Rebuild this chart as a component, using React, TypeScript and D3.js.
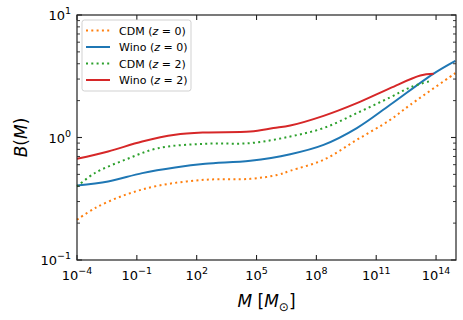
import React, { useRef, useEffect } from 'react';
import * as d3 from 'd3';

const cdmZ0LogM = [-4, -3.1, -1.59, 0.07, 2.43, 4.69, 6.05, 6.69, 8.36, 10.03, 11.7, 12.71, 14.97];
const cdmZ0B = [0.213, 0.265, 0.34, 0.404, 0.452, 0.46, 0.495, 0.535, 0.658, 0.957, 1.393, 1.849, 3.357];

const winoZ0LogM = [-4, -2.44, -0.73, 0.92, 2.43, 4.69, 6.69, 8.36, 10.03, 11.7, 13.86, 14.97];
const winoZ0B = [0.406, 0.438, 0.512, 0.569, 0.61, 0.646, 0.731, 0.871, 1.194, 1.849, 3.311, 4.227];

const cdmZ2LogM = [-4, -3.1, -1.59, 0.07, 2.43, 4.69, 6.69, 8.36, 10.03, 11.7, 12.73, 13.8];
const cdmZ2B = [0.398, 0.513, 0.658, 0.818, 0.889, 0.9, 1.019, 1.194, 1.581, 2.128, 2.576, 2.917];

const winoZ2LogM = [-4, -2.44, -0.73, 0.92, 2.43, 4.69, 5.85, 6.69, 8.36, 10.03, 11.7, 13.21, 13.88];
const winoZ2B = [0.67, 0.769, 0.927, 1.052, 1.099, 1.119, 1.194, 1.253, 1.503, 1.91, 2.529, 3.206, 3.311];

const xTickExps = [-4, -1, 2, 5, 8, 11, 14];
const yTickExps = [-1, 0, 1];

const series = [
  { label: 'CDM', z: '0', logM: cdmZ0LogM, b: cdmZ0B, color: '#ff7f0e', dotted: true },
  { label: 'Wino', z: '0', logM: winoZ0LogM, b: winoZ0B, color: '#1f77b4', dotted: false },
  { label: 'CDM', z: '2', logM: cdmZ2LogM, b: cdmZ2B, color: '#2ca02c', dotted: true },
  { label: 'Wino', z: '2', logM: winoZ2LogM, b: winoZ2B, color: '#d62728', dotted: false },
];

const App = () => {
  const svgRef = useRef<SVGSVGElement>(null);

  useEffect(() => {
    const W = 463;
    const H = 320;
    const margin = { top: 15, right: 7, bottom: 60, left: 77 };
    const width = W - margin.left - margin.right;
    const height = H - margin.top - margin.bottom;
    const font = '"DejaVu Sans", sans-serif';
    const axisColor = '#222';

    const root = d3.select(svgRef.current);
    root.selectAll('*').remove();
    const svg = root.append('g').attr('transform', `translate(${margin.left},${margin.top})`);

    const x = d3.scaleLog().domain([1e-4, 1e15]).range([0, width]);
    const y = d3.scaleLog().domain([0.1, 10]).range([height, 0]);

    // curves
    const line = d3
      .line<[number, number]>()
      .x((d) => x(Math.pow(10, d[0])))
      .y((d) => y(d[1]))
      .curve(d3.curveCatmullRom.alpha(0.5));

    const plot = svg.append('g');
    series.forEach((s) => {
      const pts = s.logM.map((m, i) => [m, s.b[i]] as [number, number]);
      plot
        .append('path')
        .datum(pts)
        .attr('fill', 'none')
        .attr('stroke', s.color)
        .attr('stroke-width', 2)
        .attr('stroke-dasharray', s.dotted ? '2,3.3' : null)
        .attr('d', line);
    });

    // frame
    svg
      .append('rect')
      .attr('width', width)
      .attr('height', height)
      .attr('fill', 'none')
      .attr('stroke', axisColor)
      .attr('stroke-width', 1.2);

    // x ticks (inward, bottom and top)
    xTickExps.forEach((e) => {
      const px = x(Math.pow(10, e));
      svg.append('line').attr('x1', px).attr('x2', px).attr('y1', height).attr('y2', height - 5)
        .attr('stroke', axisColor).attr('stroke-width', 1.1);
      svg.append('line').attr('x1', px).attr('x2', px).attr('y1', 0).attr('y2', 5)
        .attr('stroke', axisColor).attr('stroke-width', 1.1);
      const t = svg.append('text')
        .attr('x', px)
        .attr('y', height + 20)
        .attr('text-anchor', 'middle')
        .attr('font-family', font)
        .attr('font-size', 13)
        .attr('fill', '#000');
      t.append('tspan').text('10');
      t.append('tspan').attr('dy', -6).attr('font-size', 9.5).text(String(e).replace('-', '\u2212'));
    });

    // y ticks: majors + minors, left and right
    yTickExps.forEach((e) => {
      const py = y(Math.pow(10, e));
      svg.append('line').attr('x1', 0).attr('x2', 5).attr('y1', py).attr('y2', py)
        .attr('stroke', axisColor).attr('stroke-width', 1.1);
      svg.append('line').attr('x1', width).attr('x2', width - 5).attr('y1', py).attr('y2', py)
        .attr('stroke', axisColor).attr('stroke-width', 1.1);
      const t = svg.append('text')
        .attr('x', -6)
        .attr('y', py + 5)
        .attr('text-anchor', 'end')
        .attr('font-family', font)
        .attr('font-size', 13)
        .attr('fill', '#000');
      t.append('tspan').text('10');
      t.append('tspan').attr('dy', -6).attr('font-size', 9.5).text(String(e).replace('-', '\u2212'));
      if (e < 1) {
        for (let k = 2; k <= 9; k++) {
          const my = y(k * Math.pow(10, e));
          svg.append('line').attr('x1', 0).attr('x2', 3).attr('y1', my).attr('y2', my)
            .attr('stroke', axisColor).attr('stroke-width', 0.9);
          svg.append('line').attr('x1', width).attr('x2', width - 3).attr('y1', my).attr('y2', my)
            .attr('stroke', axisColor).attr('stroke-width', 0.9);
        }
      }
    });

    // axis labels
    const xl = svg.append('text')
      .attr('x', width / 2)
      .attr('y', height + 47)
      .attr('text-anchor', 'middle')
      .attr('font-family', font)
      .attr('font-size', 17)
      .attr('fill', '#000');
    xl.append('tspan').attr('font-style', 'italic').text('M');
    xl.append('tspan').text(' [');
    xl.append('tspan').attr('font-style', 'italic').text('M');
    xl.append('tspan').attr('dy', 4).attr('font-size', 12).text('\u2299');
    xl.append('tspan').attr('dy', -4).text(']');

    const yl = svg.append('text')
      .attr('transform', `translate(${-50},${height / 2}) rotate(-90)`)
      .attr('text-anchor', 'middle')
      .attr('font-family', font)
      .attr('font-size', 17)
      .attr('fill', '#000');
    yl.append('tspan').attr('font-style', 'italic').text('B');
    yl.append('tspan').text('(');
    yl.append('tspan').attr('font-style', 'italic').text('M');
    yl.append('tspan').text(')');

    // legend
    const lg = svg.append('g').attr('transform', 'translate(5,5)');
    lg.append('rect')
      .attr('width', 109)
      .attr('height', 71)
      .attr('rx', 2.5)
      .attr('fill', '#fff')
      .attr('fill-opacity', 0.8)
      .attr('stroke', '#ccc')
      .attr('stroke-width', 0.9);
    series.forEach((s, i) => {
      const ly = 10.5 + i * 16.5;
      lg.append('line')
        .attr('x1', 4).attr('x2', 28).attr('y1', ly).attr('y2', ly)
        .attr('stroke', s.color)
        .attr('stroke-width', 2)
        .attr('stroke-dasharray', s.dotted ? '2,3.3' : null);
      const t = lg.append('text')
        .attr('x', 37)
        .attr('y', ly + 4)
        .attr('font-family', font)
        .attr('font-size', 11)
        .attr('fill', '#000');
      t.append('tspan').text(`${s.label} (`);
      t.append('tspan').attr('font-style', 'italic').text('z');
      t.append('tspan').text(` = ${s.z})`);
    });
  }, []);

  return (
    <svg
      ref={svgRef}
      width={463}
      height={320}
      style={{ position: 'absolute', left: 0, top: 0, background: '#fff' }}
    />
  );
};

export default App;
